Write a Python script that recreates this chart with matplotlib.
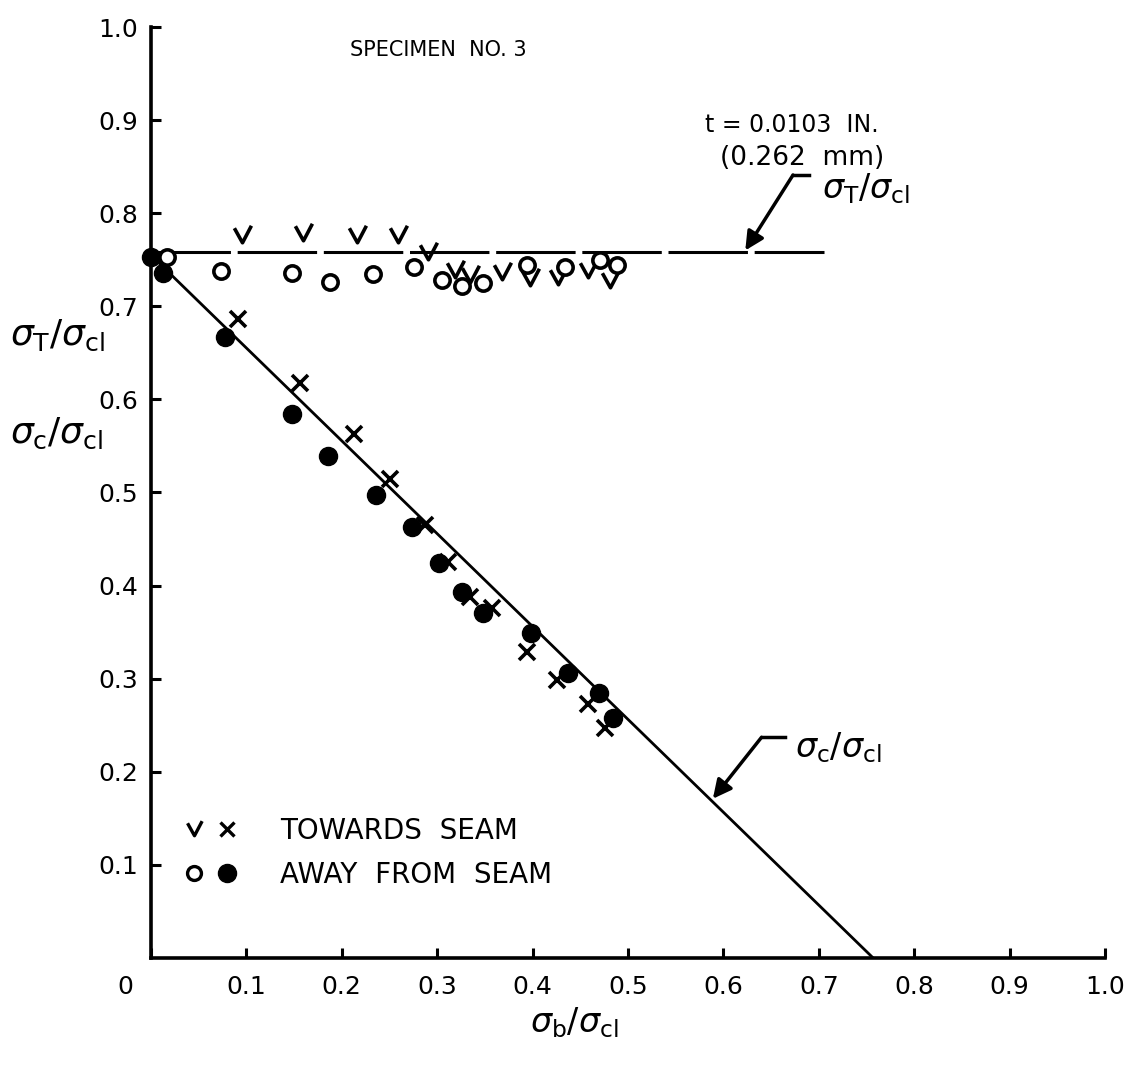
import matplotlib
matplotlib.use("Agg")
import matplotlib.pyplot as plt
import matplotlib.transforms as mtransforms
from matplotlib.path import Path
from matplotlib.lines import Line2D
from matplotlib.legend_handler import HandlerTuple

plt.rcParams['font.family'] = ['DejaVu Sans']
plt.rcParams['mathtext.fontset'] = 'dejavusans'

# sigma_T / sigma_cl, towards seam (check marks)
tow_t_x = [0.095, 0.159, 0.216, 0.259, 0.290, 0.319, 0.334, 0.368, 0.397, 0.427, 0.458, 0.481]
tow_t_y = [0.777, 0.779, 0.777, 0.777, 0.758, 0.739, 0.734, 0.737, 0.730, 0.731, 0.739, 0.728]

# sigma_T / sigma_cl, away from seam (open circles)
away_t_x = [0.017, 0.073, 0.148, 0.188, 0.233, 0.276, 0.305, 0.326, 0.348, 0.394, 0.434, 0.471, 0.489]
away_t_y = [0.753, 0.738, 0.736, 0.726, 0.735, 0.742, 0.728, 0.722, 0.725, 0.744, 0.742, 0.750, 0.744]

# sigma_c / sigma_cl, towards seam (crosses)
tow_c_x = [0.091, 0.156, 0.213, 0.251, 0.287, 0.311, 0.334, 0.357, 0.394, 0.426, 0.458, 0.476]
tow_c_y = [0.686, 0.618, 0.563, 0.515, 0.465, 0.425, 0.388, 0.376, 0.329, 0.299, 0.273, 0.247]

# sigma_c / sigma_cl, away from seam (filled circles)
away_c_x = [0.0, 0.013, 0.078, 0.148, 0.186, 0.236, 0.274, 0.302, 0.326, 0.348, 0.398, 0.437, 0.470, 0.484]
away_c_y = [0.753, 0.736, 0.667, 0.584, 0.539, 0.497, 0.463, 0.424, 0.393, 0.371, 0.349, 0.306, 0.285, 0.258]

# fitted curves
t_line_x = [0.0, 0.705]
t_line_y = [0.758, 0.758]
c_line_x = [0.0, 0.757]
c_line_y = [0.755, 0.0]

ticks = [0.0, 0.1, 0.2, 0.3, 0.4, 0.5, 0.6, 0.7, 0.8, 0.9, 1.0]
xlabels = ["0", "0.1", "0.2", "0.3", "0.4", "0.5", "0.6", "0.7", "0.8", "0.9", "1.0"]
yticks = ticks[1:]
ylabels = xlabels[1:]

# "v" glyph used for the towards-seam sigma_T points
vmark = Path([(-0.5, 0.45), (0.0, -0.45), (0.55, 0.6)],
             [Path.MOVETO, Path.LINETO, Path.LINETO])

fig = plt.figure(figsize=(11.29, 10.76), dpi=100)
ax = fig.add_axes([0.1337, 0.1097, 0.8450, 0.8652])

ax.plot(t_line_x, t_line_y, color='black', lw=2.2, dashes=(26, 2.2))
ax.plot(c_line_x, c_line_y, color='black', lw=2.0)

ax.plot(tow_t_x, tow_t_y, ls='none', marker=vmark, ms=14, mew=2.6,
        mec='black', mfc='none')
ax.plot(away_t_x, away_t_y, ls='none', marker='o', ms=11, mew=2.6,
        mec='black', mfc='white')
ax.plot(tow_c_x, tow_c_y, ls='none', marker='x', ms=11, mew=2.6,
        mec='black')
ax.plot(away_c_x, away_c_y, ls='none', marker='o', ms=13,
        mec='black', mfc='black', clip_on=False)

ax.set_xlim(0, 1.0)
ax.set_ylim(0, 1.0)
for s in ['top', 'right']:
    ax.spines[s].set_visible(False)
for s in ['left', 'bottom']:
    ax.spines[s].set_linewidth(2.6)

ax.set_xticks(ticks)
ax.set_xticklabels(xlabels)
ax.set_yticks(yticks)
ax.set_yticklabels(ylabels)
ax.tick_params(direction='in', length=7, width=2.2, labelsize=18, pad=9)
ax.tick_params(axis='x', pad=12)

# shift the "0" label left of the origin
off = mtransforms.ScaledTranslation(-26 / 100, 0, fig.dpi_scale_trans)
lab0 = ax.get_xticklabels()[0]
lab0.set_transform(lab0.get_transform() + off)

fs = 24
ax.text(0.209, 0.975, "SPECIMEN  NO. 3", fontsize=15, va='center', ha='left')
ax.text(0.581, 0.895, "t = 0.0103  IN.", fontsize=17, va='center', ha='left')
ax.text(0.596, 0.859, "(0.262  mm)", fontsize=19, va='center', ha='left')

# leader for sigma_T
ax.plot([0.673, 0.690], [0.841, 0.841], color='black', lw=2.5)
ax.annotate('', xy=(0.623, 0.760), xytext=(0.673, 0.841),
            arrowprops=dict(arrowstyle='-|>', lw=2.5, color='black',
                            mutation_scale=28, shrinkA=0, shrinkB=0))
ax.text(0.703, 0.826, r'$\sigma_{\mathrm{T}}/\sigma_{\mathrm{cl}}$',
        fontsize=fs, va='center', ha='left')

# leader for sigma_c
ax.plot([0.640, 0.665], [0.237, 0.237], color='black', lw=2.5)
ax.annotate('', xy=(0.589, 0.171), xytext=(0.640, 0.237),
            arrowprops=dict(arrowstyle='-|>', lw=2.5, color='black',
                            mutation_scale=28, shrinkA=0, shrinkB=0))
ax.text(0.675, 0.226, r'$\sigma_{\mathrm{c}}/\sigma_{\mathrm{cl}}$',
        fontsize=fs, va='center', ha='left')

# axis labels
ax.text(-0.148, 0.669, r'$\sigma_{\mathrm{T}}/\sigma_{\mathrm{cl}}$',
        fontsize=26, va='center', ha='left', clip_on=False)
ax.text(-0.148, 0.563, r'$\sigma_{\mathrm{c}}/\sigma_{\mathrm{cl}}$',
        fontsize=26, va='center', ha='left', clip_on=False)
ax.text(0.444, -0.070, r'$\sigma_{\mathrm{b}}/\sigma_{\mathrm{cl}}$',
        fontsize=fs, va='center', ha='center', clip_on=False)

# legend
h_v = Line2D([], [], ls='none', marker=vmark, ms=12, mew=2.4, mec='black', mfc='none')
h_x = Line2D([], [], ls='none', marker='x', ms=10, mew=2.4, mec='black')
h_o = Line2D([], [], ls='none', marker='o', ms=10, mew=2.4, mec='black', mfc='white')
h_f = Line2D([], [], ls='none', marker='o', ms=13, mec='black', mfc='black')
leg = ax.legend([(h_v, h_x), (h_o, h_f)], ["TOWARDS  SEAM", "AWAY  FROM  SEAM"],
                handler_map={tuple: HandlerTuple(ndivide=None, pad=0.4)},
                loc='lower left', bbox_to_anchor=(0.007, 0.047), frameon=False,
                fontsize=20, handlelength=2.0, handletextpad=1.5, labelspacing=0.6)

fig.savefig("out.png", dpi=100)
